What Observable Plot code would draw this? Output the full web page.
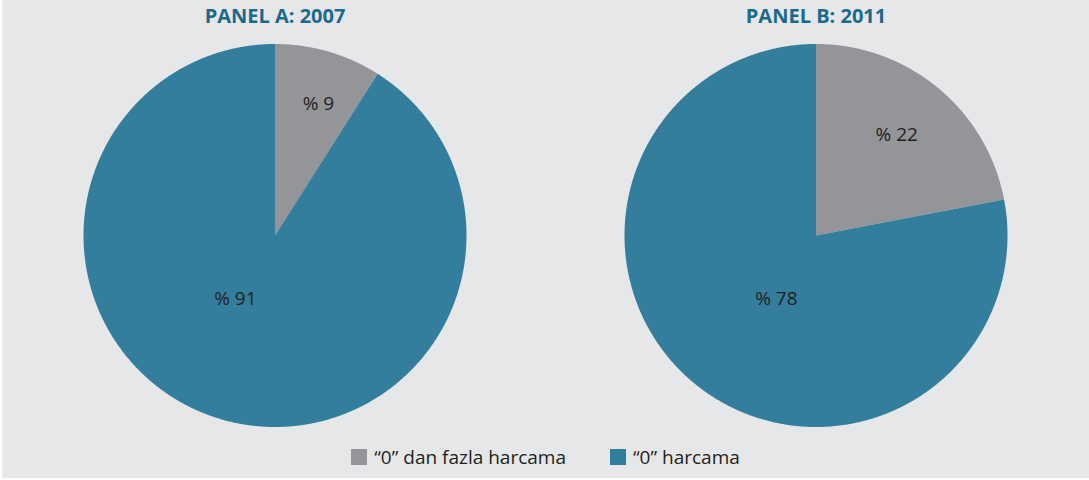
<!DOCTYPE html>
<html><head><meta charset="utf-8">
<script src="https://cdn.jsdelivr.net/npm/d3@7"></script>
<script src="https://cdn.jsdelivr.net/npm/@observablehq/plot@0.6"></script>
<style>
body{margin:0;background:#fff;}
#wrap{position:absolute;left:2px;top:0;width:1087px;height:478px;background:#e6e7e8;font-family:"Open Sans",sans-serif;overflow:hidden;}
#wrap svg{display:block;}
#wrap svg [aria-label="fx-axis tick label"]{fill:#1b6a8c;font-weight:bold;font-size:20px;}
#legend{height:34px;display:flex;justify-content:center;align-items:center;gap:44px;font-size:19px;color:#231f20;}
#legend .item{display:flex;align-items:center;gap:7px;}
#legend .sw{width:16px;height:16px;display:inline-block;}
</style></head><body><div id="wrap"></div>
<script>
const panels = ["PANEL A: 2007", "PANEL B: 2011"];
const categories = ["\u201C0\u201D dan fazla harcama", "\u201C0\u201D harcama"];
const values2007 = [9, 91];
const values2011 = [22, 78];
const colors = ["#939598", "#337e9c"];
const seriesByPanel = [values2007, values2011];

const R = 191.5; // pie radius in px (layout)
const slices = [];
const labels = [];
panels.forEach((p, i) => {
  const vals = seriesByPanel[i];
  const arcs = d3.pie().sort(null).value(d => d)(vals);
  arcs.forEach((a, j) => {
    const key = p + "|" + j;
    const n = Math.max(2, Math.ceil((a.endAngle - a.startAngle) / 0.005));
    slices.push({panel: p, key, cat: categories[j], x: 0, y: 0});
    for (let k = 0; k <= n; k++) {
      const t = a.startAngle + (a.endAngle - a.startAngle) * k / n;
      slices.push({panel: p, key, cat: categories[j], x: Math.sin(t), y: Math.cos(t)});
    }
    slices.push({panel: p, key, cat: categories[j], x: 0, y: 0});
    const small = a.value < 50;
    const mid = (a.startAngle + a.endAngle) / 2;
    const ang = small ? mid * 0.88 + 0.07 : Math.PI + 0.56;
    const r = small ? 0.76 - a.value * 0.004 : 0.39;
    labels.push({panel: p, x: r * Math.sin(ang), y: r * Math.cos(ang), text: "% " + a.value});
  });
});

const width = 1087, height = 440, mt = 32;
const band = 541;
const ml = (width - 2 * band) / 2 - 0.3;
const xr = band / 2 / R;
const cy = 235 - mt; // center from top of plot area
const yTop = cy / R, yBot = -(height - mt - cy) / R;

const chart = Plot.plot({
  width, height,
  marginTop: mt, marginBottom: 0, marginLeft: ml, marginRight: width - ml - 2 * band,
  style: {background: "transparent", fontFamily: "Open Sans, sans-serif"},
  fx: {domain: panels, padding: 0, label: null},
  x: {domain: [-xr, xr], axis: null},
  y: {domain: [yBot, yTop], axis: null},
  color: {domain: categories, range: colors},
  marks: [
    Plot.axisFx({anchor: "top", label: null, tickSize: 0, tickPadding: 10, fontSize: 20, fontWeight: "bold", fill: "#1b6a8c"}),
    Plot.line(slices, {fx: "panel", x: "x", y: "y", z: "key", fill: "cat", stroke: "none"}),
    Plot.text(labels, {fx: "panel", x: "x", y: "y", text: "text", fontSize: 19, fill: "#231f20"})
  ]
});
const wrap = document.getElementById("wrap");
wrap.appendChild(chart);
const legend = document.createElement("div");
legend.id = "legend";
categories.forEach((c, i) => {
  const it = document.createElement("div");
  it.className = "item";
  const sw = document.createElement("span");
  sw.className = "sw";
  sw.style.background = colors[i];
  const tx = document.createElement("span");
  tx.textContent = c;
  it.appendChild(sw); it.appendChild(tx);
  legend.appendChild(it);
});
wrap.appendChild(legend);
</script></body></html>
